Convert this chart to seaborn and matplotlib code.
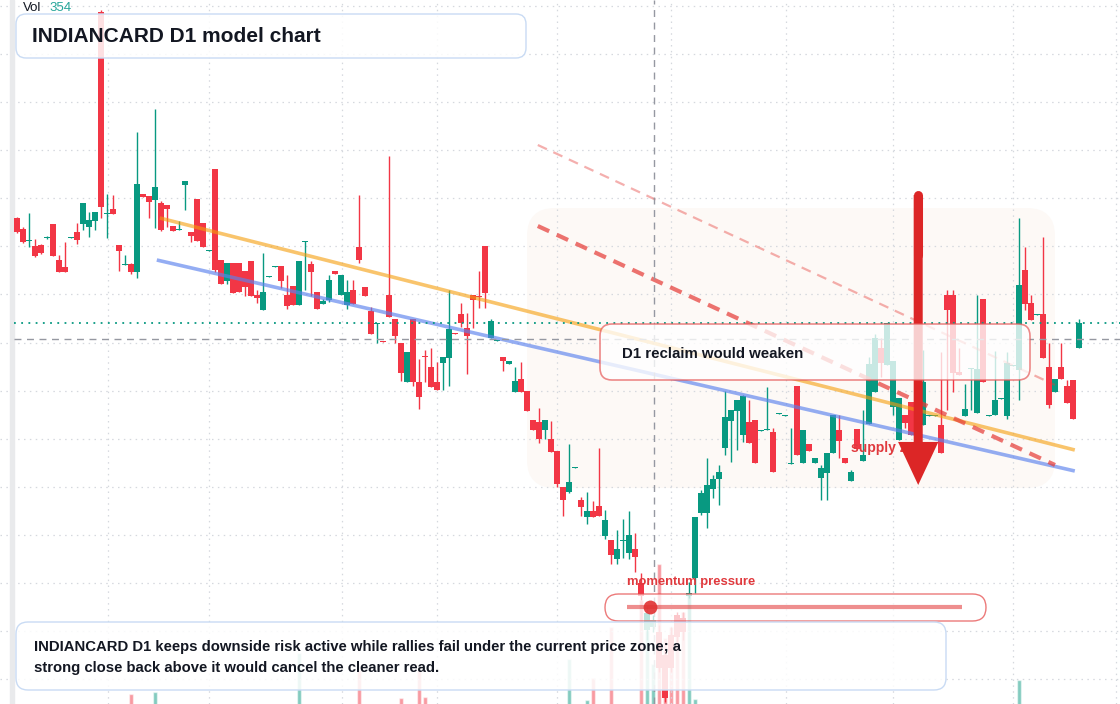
import numpy as np
import pandas as pd
import matplotlib
matplotlib.use('Agg')
import matplotlib.pyplot as plt
import matplotlib.transforms as mtransforms
from matplotlib.patches import FancyBboxPatch, Rectangle
import seaborn as sns

# daily OHLC (one candle per session)
opens = [486, 475, 463, 458, 459, 466, 480, 444, 437, 466,
         472, 480, 477, 483, 692, 490, 495, 459, 439, 440,
         432, 510, 508, 504, 501, 499, 478, 474, 519, 472,
         505, 481, 453, 535, 444, 423, 441, 441, 433, 443,
         409, 394, 427, 437, 438, 409, 418, 399, 462, 440,
         412, 400, 404, 433, 409, 399, 414, 457, 417, 393,
         380, 363, 409, 385, 361, 322, 385, 322, 348, 337,
         322, 341, 346, 371, 390, 376, 409, 408, 458, 366,
         363, 347, 340, 312, 325, 313, 284, 282, 274, 265,
         253, 217, 212, 236, 204, 187, 193, 198, 168, 164,
         145, 163, 151, 155, 121, 74, 77, 72, 49, 69,
         89, 86, 108, 126, 191, 191, 215, 225, 256, 283,
         293, 269, 282, 284, 273, 274, 272, 290, 288, 240,
         318, 241, 260, 241, 226, 231, 251, 274, 246, 223,
         275, 243, 280, 312, 356, 339, 297, 264, 289, 302,
         299, 279, 288, 288, 279, 409, 409, 332, 288, 335,
         291, 405, 288, 289, 305, 288, 338, 334, 434, 401,
         389, 390, 337, 312, 337, 318, 324, 356]
highs = [487, 477, 491, 465, 460, 468, 480, 449, 462, 467,
         481, 501, 492, 492, 694, 510, 509, 459, 449, 441,
         572, 510, 508, 595, 503, 499, 478, 483, 523, 472,
         505, 481, 454, 535, 444, 441, 441, 441, 433, 443,
         414, 451, 428, 438, 438, 429, 418, 443, 463, 443,
         412, 405, 429, 433, 429, 424, 424, 509, 417, 397,
         381, 363, 548, 385, 361, 352, 385, 345, 354, 356,
         342, 347, 414, 371, 401, 391, 409, 433, 458, 385,
         364, 347, 343, 337, 342, 313, 284, 296, 284, 283,
         253, 217, 260, 237, 207, 212, 203, 256, 194, 164,
         174, 185, 193, 171, 131, 98, 89, 79, 54, 77,
         92, 92, 122, 187, 214, 246, 229, 239, 313, 294,
         304, 309, 304, 284, 274, 317, 276, 291, 289, 276,
         318, 274, 260, 246, 239, 251, 289, 289, 246, 234,
         275, 294, 347, 370, 366, 381, 343, 306, 289, 302,
         304, 354, 289, 289, 352, 414, 414, 356, 320, 336,
         409, 405, 289, 353, 306, 352, 339, 486, 457, 409,
         390, 467, 361, 325, 361, 324, 324, 385]
lows = [471, 461, 457, 447, 450, 465, 448, 432, 432, 466,
        460, 474, 467, 474, 486, 466, 490, 433, 439, 430,
        426, 507, 486, 476, 473, 477, 473, 474, 494, 462,
        463, 457, 453, 432, 420, 420, 411, 412, 408, 408,
        401, 394, 427, 437, 416, 395, 399, 399, 414, 408,
        395, 400, 402, 430, 409, 395, 400, 441, 408, 370,
        361, 362, 387, 361, 323, 322, 318, 295, 322, 317,
        314, 314, 318, 370, 377, 330, 376, 396, 396, 366,
        363, 333, 340, 312, 312, 293, 274, 261, 265, 252,
        217, 188, 211, 236, 188, 180, 187, 188, 165, 140,
        140, 146, 145, 132, 104, 64, 72, 32, 2, 32,
        62, 64, 106, 111, 189, 176, 206, 199, 249, 242,
        254, 262, 261, 241, 273, 274, 232, 290, 288, 240,
        249, 241, 253, 241, 204, 204, 251, 246, 241, 223,
        255, 243, 280, 312, 327, 339, 289, 264, 276, 269,
        262, 279, 288, 288, 251, 294, 312, 329, 288, 294,
        291, 322, 288, 289, 305, 285, 338, 304, 394, 384,
        389, 346, 296, 312, 325, 301, 285, 356]
closes = [472, 462, 464, 448, 451, 467, 448, 432, 432, 467,
          464, 501, 484, 492, 497, 491, 490, 453, 440, 432,
          520, 507, 502, 517, 474, 495, 473, 475, 523, 468,
          463, 457, 454, 434, 420, 441, 411, 412, 417, 408,
          406, 412, 428, 438, 423, 398, 399, 443, 463, 432,
          395, 403, 424, 430, 429, 412, 400, 444, 408, 370,
          381, 362, 387, 368, 331, 352, 322, 307, 347, 317,
          314, 347, 375, 370, 381, 368, 404, 407, 411, 383,
          364, 343, 343, 323, 312, 293, 274, 265, 284, 252,
          220, 204, 222, 237, 197, 193, 187, 188, 184, 149,
          155, 164, 169, 147, 108, 91, 84, 36, 6, 36,
          67, 72, 111, 187, 211, 219, 225, 232, 287, 294,
          304, 308, 261, 241, 274, 275, 232, 291, 289, 241,
          249, 274, 253, 246, 236, 251, 289, 263, 241, 232,
          255, 249, 340, 366, 341, 381, 343, 306, 281, 269,
          264, 322, 289, 289, 251, 394, 331, 329, 295, 336,
          335, 322, 289, 304, 306, 341, 339, 419, 400, 384,
          390, 346, 299, 325, 325, 301, 285, 381]
volumes = [420, 380, 450, 300, 350, 280, 410, 390, 330, 260,
           370, 440, 360, 310, 520, 300, 290, 350, 330, 800,
           560, 310, 280, 840, 400, 330, 270, 250, 380, 300,
           420, 360, 240, 530, 390, 310, 370, 350, 330, 410,
           290, 450, 230, 220, 340, 360, 300, 1620, 410, 380,
           330, 260, 350, 240, 330, 370, 340, 1280, 300, 420,
           310, 220, 560, 380, 720, 410, 520, 1280, 740, 390,
           330, 300, 480, 220, 320, 400, 350, 300, 460, 380,
           250, 320, 240, 380, 350, 420, 360, 400, 330, 380,
           450, 480, 1500, 260, 430, 680, 1120, 470, 390, 2140,
           410, 380, 450, 420, 2680, 2080, 1400, 3400, 1920, 2140,
           2380, 2440, 2820, 700, 520, 480, 390, 420, 560, 410,
           380, 450, 420, 470, 230, 260, 440, 240, 250, 310,
           520, 390, 300, 260, 380, 420, 460, 350, 270, 330,
           380, 410, 520, 480, 360, 450, 430, 390, 310, 360,
           420, 470, 240, 250, 460, 530, 510, 300, 340, 260,
           450, 490, 230, 380, 220, 440, 250, 1080, 520, 410,
           240, 480, 430, 330, 360, 380, 420, 354]

# drawings on the chart: (candle index, price) end points
orange_x, orange_y = [23.8, 176.3], [486, 254]
blue_x, blue_y = [23.3, 176.3], [444, 233]
thin_red_x, thin_red_y = [86.8, 173.0], [559, 319]
thick_red_x, thick_red_y = [86.8, 173.0], [478, 239]
arrow_x, arrow_top, arrow_tip = 150.2, 509, 219
last_price = 381
cross_x, cross_price = 106.1, 365
month_breaks = [15.2, 32.0, 54.2, 70.0, 90.0, 109.0, 128.2, 146.0, 166.0, 183.2]
grid_prices = [24.8, 72.9, 121.0, 169.1, 217.2, 265.3, 313.4, 361.5, 409.6,
               457.7, 505.8, 553.9, 602.0, 650.1, 698.2]

GREEN = '#089981'
RED = '#f23645'
INK = '#131722'

sns.set_style('white')
plt.rcParams['font.family'] = ['Liberation Sans', 'DejaVu Sans']

df = pd.DataFrame({'o': opens, 'h': highs, 'l': lows, 'c': closes, 'v': volumes})
df['idx'] = np.arange(len(df))
df['dir'] = np.where(df['c'] >= df['o'], 'up', 'down')
colors = np.where(df['dir'] == 'up', GREEN, RED)

W, H = 1120, 704
fig = plt.figure(figsize=(W / 100, H / 100), dpi=100)
xlim = (-17 / 6, -17 / 6 + W / 6)

# volume pane underneath
ax_v = fig.add_axes([0, 0, 1, 1])
sns.barplot(data=df, x='idx', y='v', hue='dir', palette={'up': GREEN, 'down': RED},
            native_scale=True, dodge=False, alpha=0.5, saturation=1, width=0.82,
            errorbar=None, legend=False, ax=ax_v)
ax_v.set_xlim(xlim)
ax_v.set_ylim(600, 600 + H * 20)
ax_v.axis('off')

# price pane on top
ax = fig.add_axes([0, 0, 1, 1])
ax.patch.set_alpha(0)
ax.set_xlim(xlim)
ax.set_ylim(0, H)
ax.axis('off')

# pixel transform for the overlay boxes
px = mtransforms.Affine2D().scale(1 / W, -1 / H).translate(0, 1) + fig.transFigure

for gp in grid_prices:
    ax.axhline(gp, color='#d5d8de', lw=0.9, ls=(0, (1.2, 3.5)), zorder=0.6)
for mb in month_breaks:
    ax.axvline(mb, color='#d5d8de', lw=0.9, ls=(0, (1.2, 3.5)), zorder=0.6)
ax.add_patch(Rectangle((10, 0), 4, H, transform=px, color='#e9eaec', zorder=0.7))

# shaded zone
zone = FancyBboxPatch((527, 208), 528, 280, boxstyle='round,pad=0,rounding_size=28',
                      transform=px, fc='#fdf9f6', ec='none', zorder=0.5)
ax.add_patch(zone)

# candles
ax.vlines(df['idx'], df['l'], df['h'], colors=colors, lw=1, zorder=2)
body_lo = np.minimum(df['o'], df['c'])
body_h = np.maximum(np.abs(df['c'] - df['o']), 1.5)
ax.bar(df['idx'], body_h, bottom=body_lo, width=0.84, color=colors, lw=0, zorder=3)

# trend lines
ax.plot(orange_x, orange_y, color='#f59e0b', alpha=0.6, lw=2.6, solid_capstyle='butt', zorder=4)
ax.plot(blue_x, blue_y, color='#5b82ee', alpha=0.65, lw=2.6, solid_capstyle='butt', zorder=4)
l1, = ax.plot(thin_red_x, thin_red_y, color='#e53935', alpha=0.4, lw=1.6, zorder=4)
l1.set_dashes([4.5, 3.2])
l2, = ax.plot(thick_red_x, thick_red_y, color='#e53935', alpha=0.7, lw=3, zorder=4)
l2.set_dashes([3, 2])

# price line and crosshair
ax.axhline(last_price, xmin=14 / W, color=GREEN, lw=1.3, ls=(0, (1, 3)), zorder=4)
ax.axhline(cross_price, xmin=14 / W, color='#9598a1', lw=1, ls=(0, (5, 4)), zorder=4)
ax.axvline(cross_x, color='#9598a1', lw=1, ls=(0, (5, 4)), zorder=4)

# supply zone label sits under the arrow
ax.text(851, 448, 'supply zone', transform=px, color='#e03a3e', fontsize=10,
        fontweight='bold', va='center', ha='left', zorder=5)

ax.plot([arrow_x, arrow_x], [arrow_top, arrow_top - 60], color='#dc2626', lw=6.5,
        solid_capstyle='round', zorder=6)
ax.annotate('', xy=(arrow_x, arrow_tip), xytext=(arrow_x, arrow_top),
            arrowprops=dict(arrowstyle='simple,head_length=3.1,head_width=2.9,tail_width=0.65',
                            mutation_scale=10, color='#dc2626', lw=0, shrinkA=0, shrinkB=0),
            zorder=6)

# momentum pressure gauge
ax.text(627, 582, 'momentum pressure', transform=px, color='#e03a3e', fontsize=9.4,
        fontweight='bold', va='center', ha='left', zorder=9)
ax.add_patch(FancyBboxPatch((605, 594), 381, 27, boxstyle='round,pad=0,rounding_size=13.5',
                            transform=px, fc=(1, 1, 1, 0.72), ec=(0.9, 0.3, 0.3, 0.75),
                            lw=1, zorder=7))
ax.plot([627, 962], [607, 607], transform=px, color='#e03131', alpha=0.55, lw=3,
        solid_capstyle='butt', zorder=8)
ax.plot([650], [607], transform=px, marker='o', ms=10, color='#e03131', alpha=0.9,
        mec='none', zorder=8)

# D1 reclaim callout
ax.add_patch(FancyBboxPatch((600, 324), 430, 56, boxstyle='round,pad=0,rounding_size=12',
                            transform=px, fc=(1, 1, 1, 0.78), ec=(0.9, 0.35, 0.35, 0.7),
                            lw=1.2, zorder=7))
ax.text(622, 354, 'D1 reclaim would weaken', transform=px, color=INK, fontsize=10.8,
        fontweight='bold', va='center', ha='left', zorder=9)

# title
ax.add_patch(FancyBboxPatch((16, 14), 510, 44, boxstyle='round,pad=0,rounding_size=10',
                            transform=px, fc=(1, 1, 1, 0.85), ec='#c9dbf4', lw=1, zorder=7))
ax.text(32, 36, 'INDIANCARD D1 model chart', transform=px, color=INK, fontsize=15,
        fontweight='bold', va='center', ha='left', zorder=9)

# summary note
ax.add_patch(FancyBboxPatch((16, 622), 930, 68, boxstyle='round,pad=0,rounding_size=12',
                            transform=px, fc=(1, 1, 1, 0.86), ec='#c9dbf4', lw=1, zorder=7))
ax.text(34, 647, 'INDIANCARD D1 keeps downside risk active while rallies fail under the current price zone; a',
        transform=px, color=INK, fontsize=10.7, fontweight='bold', va='center', ha='left', zorder=9)
ax.text(34, 668, 'strong close back above it would cancel the cleaner read.',
        transform=px, color=INK, fontsize=10.7, fontweight='bold', va='center', ha='left', zorder=9)

# volume readout
ax.text(23, 8, 'Vol', transform=px, color=INK, fontsize=9.5, va='center', ha='left', zorder=9)
ax.text(49, 8, f'{volumes[-1]}', transform=px, color='#26a69a', fontsize=9.5,
        va='center', ha='left', zorder=9)

fig.savefig('out.png', dpi=100)
